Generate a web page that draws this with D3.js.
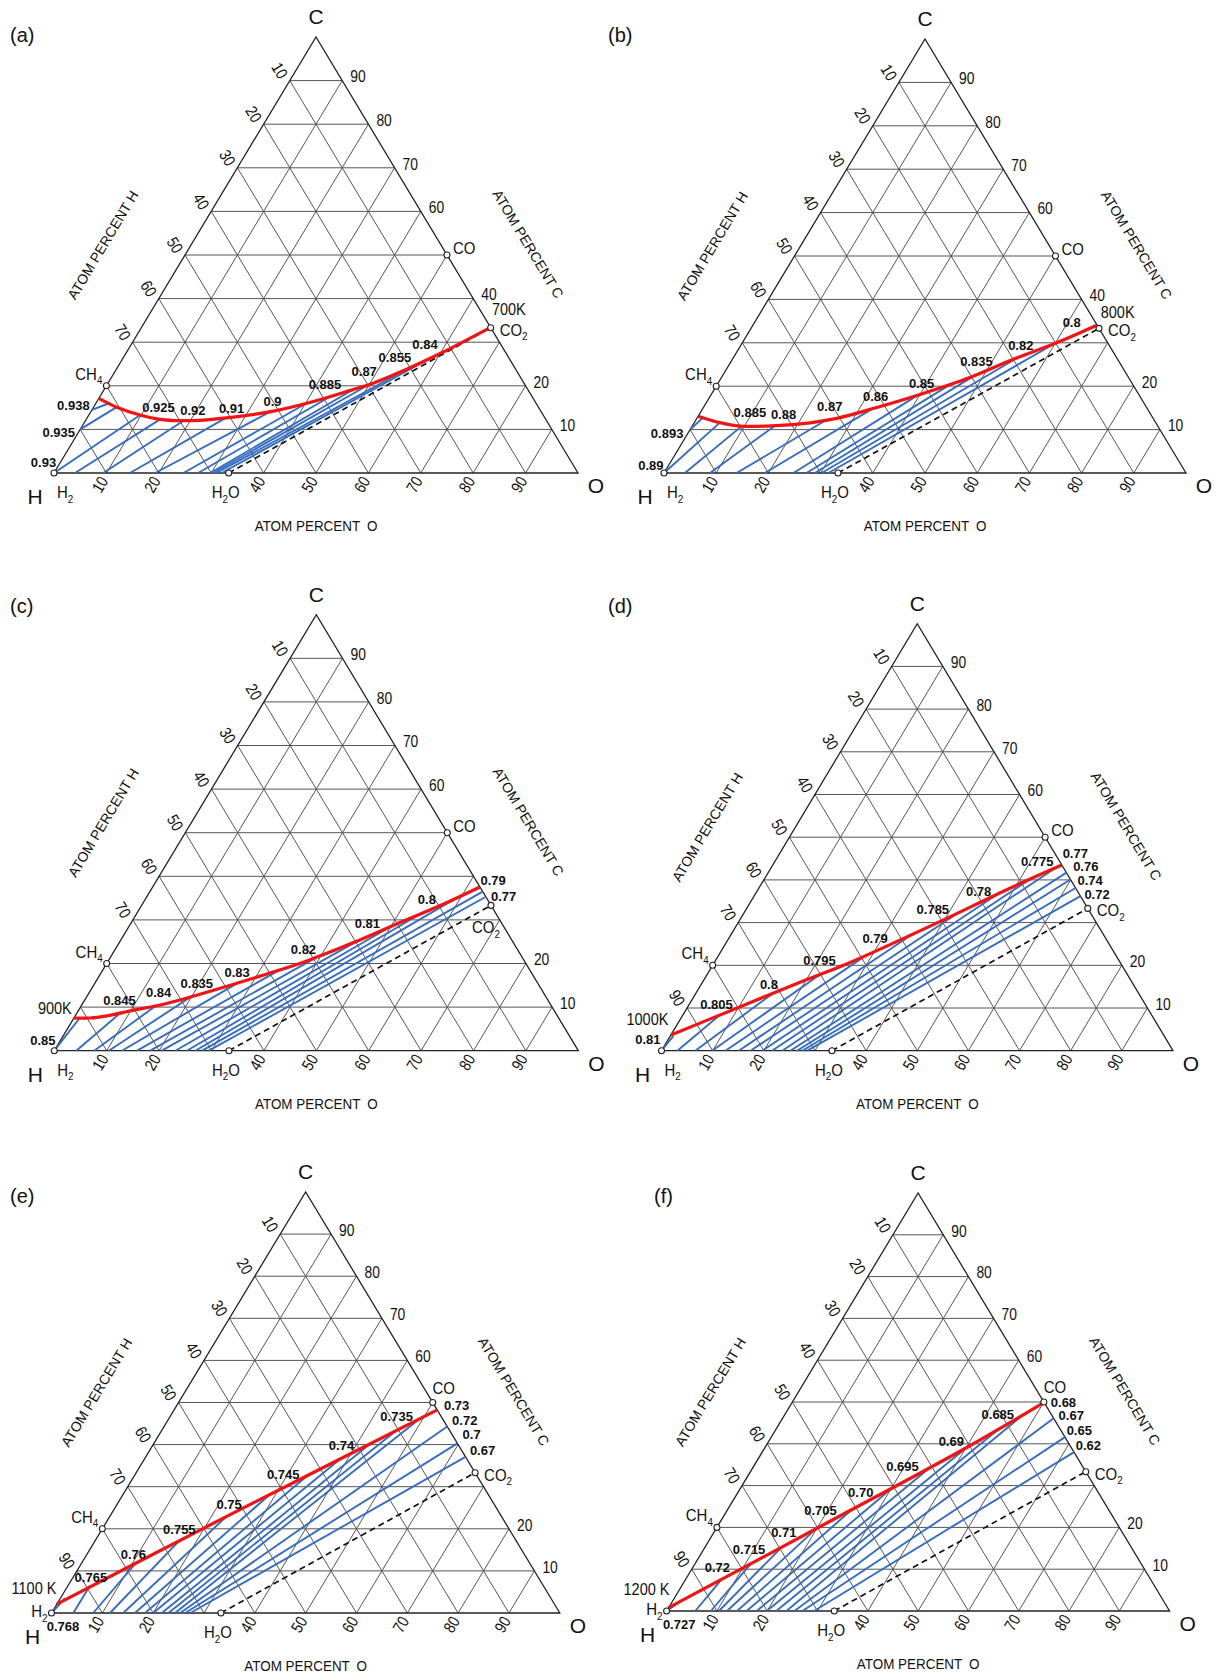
<!DOCTYPE html>
<html>
<head>
<meta charset="utf-8">
<script src="https://cdn.jsdelivr.net/npm/d3@7"></script>
<style>
  body { margin: 0; background: #fff; }
  svg text { font-family: Arial, "Liberation Sans", sans-serif; fill: #111; }
</style>
</head>
<body>
<svg id="chart" width="1222" height="1675"></svg>
<script>
// every point is [atom % O, atom % C]; atom % H is what is left
const ticks = d3.range(10, 100, 10);
const bottomTicks = [10, 20, 40, 50, 60, 70, 80, 90];
const leftTicksShort = [10, 20, 30, 40, 50, 60, 70];
const leftTicksLong = [10, 20, 30, 40, 50, 60, 70, 90];
const rightTicksWide = [10, 20, 40, 60, 70, 80, 90];
const rightTicksNarrow = [10, 20, 60, 70, 80, 90];

const species = [
  { name: "H2", o: 0, c: 0 },
  { name: "H2O", o: 33.33, c: 0 },
  { name: "CH4", o: 0, c: 20 },
  { name: "CO", o: 50, c: 50 },
  { name: "CO2", o: 66.67, c: 33.33 }
];

// (a) 700K
const redA = [[0, 17.1], [4.4, 15.1], [9.8, 13.3], [14.1, 12.3], [18.0, 12.0], [23.0, 12.2], [27.8, 12.8],
  [34.8, 14.2], [41.3, 16.4], [47.0, 18.9], [50.6, 20.6], [55.4, 23.8], [60.0, 27.4], [66.5, 33.3]];
const blueA = [
  [[0, 14.5], [2.5, 16.0]], [[0, 10], [4.4, 15.1]], [[0, 0], [9.8, 13.3]], [[4.0, 0], [14.1, 12.3]],
  [[9.4, 0], [18.7, 12.0]], [[14.5, 0], [26.4, 12.6]], [[19.3, 0], [34.3, 14.1]], [[24.7, 0], [40.2, 16.0]],
  [[27.5, 0], [43.9, 17.5]], [[29.8, 0], [47.5, 19.1]], [[30.4, 0], [50.0, 20.3]], [[31.0, 0], [55.4, 23.8]],
  [[32.0, 0], [58.5, 26.2]]];
const valsA = [["0.938", -4.1, 15.6], ["0.935", -3.8, 9.4], ["0.93", -3.2, 2.4], ["0.925", 12.4, 15.1],
  ["0.92", 19.3, 14.4], ["0.91", 26.5, 14.8], ["0.9", 33.5, 16.4], ["0.885", 41.6, 20.2], ["0.87", 47.6, 23.2],
  ["0.855", 51.8, 26.5], ["0.84", 56.1, 29.4]];

// (b) 800K
const redB = [[0, 13.1], [4.9, 11.6], [9.2, 10.8], [14.3, 10.8], [20.4, 11.3], [26.8, 12.6], [33.2, 15.1],
  [40.0, 18.1], [47.6, 22.0], [53.8, 26.2], [60.2, 30.0], [65.8, 34.0]];
const blueB = [
  [[0, 10], [1.1, 12.8]], [[0, 0], [4.9, 11.6]], [[4.0, 0], [9.5, 10.8]], [[8.8, 0], [15.8, 10.9]],
  [[13.9, 0], [25.0, 12.2]], [[19.3, 0], [32.6, 14.9]], [[24.8, 0], [39.7, 18.0]], [[27.3, 0], [44.8, 20.6]],
  [[28.9, 0], [48.3, 22.5]], [[30.2, 0], [54.5, 26.6]], [[31.5, 0], [60.0, 29.9]]];
const valsB = [["0.893", -4.0, 9.2], ["0.89", -3.4, 1.8], ["0.885", 9.5, 13.9], ["0.88", 16.1, 13.6],
  ["0.87", 24.1, 15.3], ["0.86", 31.7, 17.7], ["0.85", 39.0, 20.7], ["0.835", 47.0, 25.7], ["0.82", 53.6, 29.5],
  ["0.8", 60.8, 34.6]];

// (c) 900K
const redC = [[0, 7.5], [3.1, 7.5], [6.05, 8.0], [10.5, 9.3], [14.4, 10.3], [19.3, 12.1], [25.6, 14.8],
  [31.8, 17.6], [37.9, 20.6], [44.7, 24.8], [51.3, 29.4], [57.0, 33.3], [62.4, 37.5]];
const blueC = [
  [[0, 0], [1.1, 7.5]], [[4.2, 0], [8.3, 8.7]], [[7.6, 0], [14.2, 10.25]], [[10.4, 0], [19.9, 12.4]],
  [[12.9, 0], [27.2, 15.5]], [[15.8, 0], [33.8, 18.6]], [[18.3, 0], [39.6, 21.7]], [[20.5, 0], [45.3, 25.2]],
  [[23.1, 0], [50.1, 28.6]], [[25.3, 0], [54.2, 31.4]], [[26.9, 0], [59.2, 35.0]], [[28.2, 0], [63.5, 36.5]],
  [[29.5, 0], [64.7, 35.3]]];
const valsC = [["0.79", 64.2, 39.1], ["0.77", 68.1, 35.3], ["0.8", 53.7, 34.8], ["0.81", 45.2, 29.1],
  ["0.82", 35.9, 23.3], ["0.83", 25.9, 18.0], ["0.835", 19.5, 15.4], ["0.84", 13.2, 13.4], ["0.845", 6.7, 11.5],
  ["0.85", -3.4, 2.45]];

// (d) 1000K
const redD = [[0, 3.7], [9.8, 10], [20, 16.6], [26.3, 20.5], [39, 30], [49, 38], [56.5, 43.5]];
const blueD = [
  [[0, 0], [0.6, 3.4]], [[3.1, 0], [7.2, 8.3]], [[6.6, 0], [15.05, 13.4]], [[9.9, 0], [22.1, 17.9]],
  [[12.5, 0], [28.9, 22.45]], [[15.1, 0], [35.6, 27.5]], [[17.4, 0], [41.9, 32.3]], [[19.7, 0], [47.4, 36.7]],
  [[21.6, 0], [52.0, 40.2]], [[23.6, 0], [55.6, 42.8]], [[25.2, 0], [58.3, 41.7]], [[26.5, 0], [59.9, 40.1]],
  [[27.5, 0], [61.9, 38.1]], [[28.5, 0], [63.8, 36.2]]];
const valsD = [["0.775", 51.3, 44.3], ["0.77", 57.8, 46.2], ["0.76", 61.4, 43.1], ["0.74", 63.9, 39.8],
  ["0.72", 66.9, 36.5], ["0.78", 43.4, 37.2], ["0.785", 36.5, 33.1], ["0.79", 28.6, 26.3], ["0.795", 20.3, 21.2],
  ["0.8", 13.2, 15.6], ["0.805", 5.3, 10.9], ["0.81", -4.0, 2.7]];

// (e) 1100 K
const redE = [[0, 2.1], [19.7, 20.0], [31.0, 30.0], [51.7, 48.2]];
const blueE = [
  [[0, 0], [0.9, 3.5]], [[4.3, 0], [4.3, 6.5]], [[8.2, 0], [10.7, 12.1]], [[11.5, 0], [16.6, 17.3]],
  [[14.1, 0], [23.0, 23.0]], [[16.4, 0], [28.9, 28.2]], [[18.4, 0], [33.95, 32.5]], [[20.0, 0], [38.5, 36.6]],
  [[21.7, 0], [42.6, 40.2]], [[23.0, 0], [46.2, 43.4]], [[24.3, 0], [49.4, 46.2]], [[25.3, 0], [55.7, 44.3]],
  [[26.3, 0], [59.7, 40.3]], [[27.3, 0], [62.9, 37.1]]];
const valsE = [["0.73", 55.0, 49.4], ["0.72", 58.4, 45.8], ["0.7", 61.5, 42.3], ["0.67", 65.5, 38.6],
  ["0.735", 44.5, 46.8], ["0.74", 37.2, 39.7], ["0.745", 29.1, 33.0], ["0.75", 22.0, 25.9], ["0.755", 15.2, 19.9],
  ["0.76", 9.2, 13.8], ["0.765", 3.5, 8.5], ["0.768", 3.9, -3.3]];

// (f) 1200 K
const redF = [[0, 0.8], [20, 19.8], [40, 39], [50, 49.8]];
const blueF = [
  [[0, 0], [1.6, 2.3]], [[5.7, 0], [7.2, 7.8]], [[8.8, 0], [11.1, 11.4]], [[10.4, 0], [15.3, 15.4]],
  [[12.0, 0], [19.9, 19.7]], [[14.0, 0], [24.7, 24.3]], [[15.9, 0], [30.2, 29.6]], [[17.9, 0], [35.3, 34.5]],
  [[19.9, 0], [40.1, 39.1]], [[21.8, 0], [44.3, 43.6]], [[23.8, 0], [47.5, 47.1]], [[25.4, 0], [53.9, 46.1]],
  [[27.0, 0], [58.4, 41.6]], [[29.3, 0], [62.0, 38.0]]];
const valsF = [["0.68", 54.0, 49.8], ["0.67", 57.1, 46.7], ["0.65", 60.4, 43.3], ["0.62", 64.0, 39.7],
  ["0.685", 42.3, 47.1], ["0.69", 36.3, 40.6], ["0.695", 29.6, 34.6], ["0.70", 24.4, 28.4], ["0.705", 18.6, 24.0],
  ["0.71", 13.9, 18.8], ["0.715", 9.0, 14.8], ["0.72", 4.95, 10.3], ["0.727", 4.15, -3.3]];

const temps = [["700K", 68.0, 37.6], ["800K", 68.4, 37.0], ["900K", -4.8, 9.8],
  ["1000K", -6.45, 7.4], ["1100 K", -6.4, 5.9], ["1200 K", -6.6, 5.2]];

// where each triangle sits on the page (H corner, width, height)
const panels = [
  { tag: "(a)", tx: 10, ty: 42, hx: 54, hy: 473, w: 524, h: 436, red: redA, blue: blueA, vals: valsA, temp: temps[0],
    left: leftTicksShort, right: rightTicksWide },
  { tag: "(b)", tx: 608, ty: 42, hx: 664, hy: 473, w: 522, h: 434, red: redB, blue: blueB, vals: valsB, temp: temps[1],
    left: leftTicksShort, right: rightTicksWide },
  { tag: "(c)", tx: 10, ty: 613, hx: 54.3, hy: 1050.7, w: 524, h: 436, red: redC, blue: blueC, vals: valsC, temp: temps[2],
    left: leftTicksShort, right: rightTicksNarrow, co2Below: true },
  { tag: "(d)", tx: 608, ty: 613, hx: 661.5, hy: 1050.7, w: 511.5, h: 427, red: redD, blue: blueD, vals: valsD, temp: temps[3],
    left: leftTicksLong, right: rightTicksNarrow },
  { tag: "(e)", tx: 10, ty: 1203, hx: 51.5, hy: 1613, w: 508.3, h: 421, red: redE, blue: blueE, vals: valsE, temp: temps[4],
    left: leftTicksLong, right: rightTicksNarrow, coAbove: true, h2Left: true },
  { tag: "(f)", tx: 654, ty: 1203, hx: 666.6, hy: 1611, w: 503, h: 418, red: redF, blue: blueF, vals: valsF, temp: temps[5],
    left: leftTicksLong, right: rightTicksNarrow, coAbove: true, h2Left: true }
];

const svg = d3.select("#chart");

// the original lettering is a narrow sans, so regular text is squeezed a little
const narrow = (x, y, rot, sx) => `translate(${x},${y})` + (rot ? ` rotate(${rot})` : "") + ` scale(${sx},1)`;

function chem(text, name) {
  let wasSub = false;
  name.match(/[A-Za-z]+|\d+/g).forEach(part => {
    const isNum = /\d/.test(part);
    const t = text.append("tspan").text(part);
    if (isNum) t.attr("font-size", "0.66em").attr("dy", 4.5);
    else if (wasSub) t.attr("dy", -4.5);
    wasSub = isNum;
  });
}

function drawPanel(p) {
  const g = svg.append("g");
  const xs = d3.scaleLinear().domain([0, 100]).range([p.hx, p.hx + p.w]);
  const ys = d3.scaleLinear().domain([0, 100]).range([p.hy, p.hy - p.h]);
  const px = d => xs(d[0] + d[1] / 2);
  const py = d => ys(d[1]);
  const line = d3.line().x(px).y(py);
  const smooth = d3.line().x(px).y(py).curve(d3.curveCatmullRom.alpha(0.5));
  const tilt = Math.atan2(p.h, p.w / 2) * 180 / Math.PI;

  // grid: constant C, constant O, constant H
  const grid = ticks.flatMap(v => [
    [[0, v], [100 - v, v]],
    [[v, 0], [v, 100 - v]],
    [[100 - v, 0], [0, 100 - v]]
  ]);
  g.append("g").selectAll("path").data(grid).join("path")
    .attr("d", line)
    .attr("fill", "none")
    .attr("stroke", "#555")
    .attr("stroke-width", 1);

  g.append("path")
    .datum([[0, 0], [100, 0], [0, 100]])
    .attr("d", d => line(d) + "Z")
    .attr("fill", "none")
    .attr("stroke", "#222")
    .attr("stroke-width", 1.3);

  g.append("g").selectAll("path").data(p.blue).join("path")
    .attr("d", line)
    .attr("fill", "none")
    .attr("stroke", "#356cc2")
    .attr("stroke-width", 1.9);

  g.append("path")
    .datum([[33.33, 0], [66.67, 33.33]])
    .attr("d", line)
    .attr("stroke", "#111")
    .attr("stroke-width", 1.7)
    .attr("stroke-dasharray", "6,4");

  g.append("path")
    .datum(p.red)
    .attr("d", smooth)
    .attr("fill", "none")
    .attr("stroke", "#f01414")
    .attr("stroke-width", 3.2);

  // species markers
  species.forEach(s => {
    const x = px([s.o, s.c]);
    const y = py([s.o, s.c]);
    g.append("circle")
      .attr("cx", x).attr("cy", y).attr("r", 3)
      .attr("fill", "#fff").attr("stroke", "#222").attr("stroke-width", 1.1);

    let lx, ly, anchor;
    if (s.name === "H2") {
      if (p.h2Left) { lx = x - 4; ly = y + 4; anchor = "end"; }
      else { lx = x + 3; ly = y + 25; anchor = "start"; }
    } else if (s.name === "H2O") {
      lx = x - 3; ly = y + 25; anchor = "middle";
    } else if (s.name === "CH4") {
      lx = x - 4; ly = y - 6; anchor = "end";
    } else if (s.name === "CO") {
      if (p.coAbove) { lx = x + 11; ly = y - 9; anchor = "middle"; }
      else { lx = x + 6; ly = y - 1; anchor = "start"; }
    } else {
      if (p.co2Below) { lx = x - 5; ly = y + 28; anchor = "middle"; }
      else { lx = x + 9; ly = y + 8; anchor = "start"; }
    }
    const t = g.append("text")
      .attr("transform", narrow(lx, ly, 0, 0.88))
      .attr("text-anchor", anchor)
      .attr("font-size", 17);
    chem(t, s.name);
  });

  // value labels along the boundary
  g.append("g").selectAll("text").data(p.vals).join("text")
    .attr("x", d => px([d[1], d[2]]))
    .attr("y", d => py([d[1], d[2]]))
    .attr("dy", "0.35em")
    .attr("text-anchor", "middle")
    .attr("font-size", 13)
    .attr("font-weight", "bold")
    .text(d => d[0]);

  g.append("text")
    .attr("transform", narrow(px([p.temp[1], p.temp[2]]), py([p.temp[1], p.temp[2]]), 0, 0.88))
    .attr("dy", "0.35em")
    .attr("text-anchor", "middle")
    .attr("font-size", 16.5)
    .text(p.temp[0]);

  // tick labels
  g.append("g").selectAll("text").data(p.right).join("text")
    .attr("transform", c => narrow(px([100 - c, c]) + 8, py([100 - c, c]) - 4, 0, 0.84))
    .attr("dy", "0.35em")
    .attr("font-size", 16.5)
    .text(c => c);

  g.append("g").selectAll("text").data(p.left).join("text")
    .attr("transform", v => narrow(px([0, 100 - v]) - 10, py([0, 100 - v]) - 10, tilt, 0.84))
    .attr("dy", "0.35em")
    .attr("text-anchor", "middle")
    .attr("font-size", 16.5)
    .text(v => v);

  g.append("g").selectAll("text").data(bottomTicks).join("text")
    .attr("transform", o => narrow(px([o, 0]) - 6.5, py([o, 0]) + 11.5, -tilt, 0.84))
    .attr("dy", "0.35em")
    .attr("text-anchor", "middle")
    .attr("font-size", 16.5)
    .text(o => o);

  // corner letters
  const corners = [["C", px([0, 100]), py([0, 100]) - 20], ["H", p.hx - 19, p.hy + 24], ["O", p.hx + p.w + 18, p.hy + 13]];
  g.append("g").selectAll("text").data(corners).join("text")
    .attr("x", d => d[1]).attr("y", d => d[2])
    .attr("dy", "0.35em")
    .attr("text-anchor", "middle")
    .attr("font-size", 21)
    .text(d => d[0]);

  // axis titles
  const midL = [p.hx + p.w / 4, p.hy - p.h / 2];
  const midR = [p.hx + 3 * p.w / 4, p.hy - p.h / 2];
  g.append("text")
    .attr("transform", narrow(midL[0] - 82, midL[1] - 10, -tilt, 1))
    .attr("dy", "0.35em").attr("text-anchor", "middle").attr("font-size", 14)
    .text("ATOM PERCENT H");
  g.append("text")
    .attr("transform", narrow(midR[0] + 81, midR[1] - 11, tilt, 1))
    .attr("dy", "0.35em").attr("text-anchor", "middle").attr("font-size", 14)
    .text("ATOM PERCENT C");
  g.append("text")
    .attr("transform", narrow(p.hx + p.w / 2, p.hy + 53, 0, 0.96))
    .attr("dy", "0.35em").attr("text-anchor", "middle").attr("font-size", 14)
    .text("ATOM PERCENT\u2002O");

  g.append("text")
    .attr("x", p.tx).attr("y", p.ty)
    .attr("font-size", 20)
    .text(p.tag);
}

panels.forEach(drawPanel);
</script>
</body>
</html>
